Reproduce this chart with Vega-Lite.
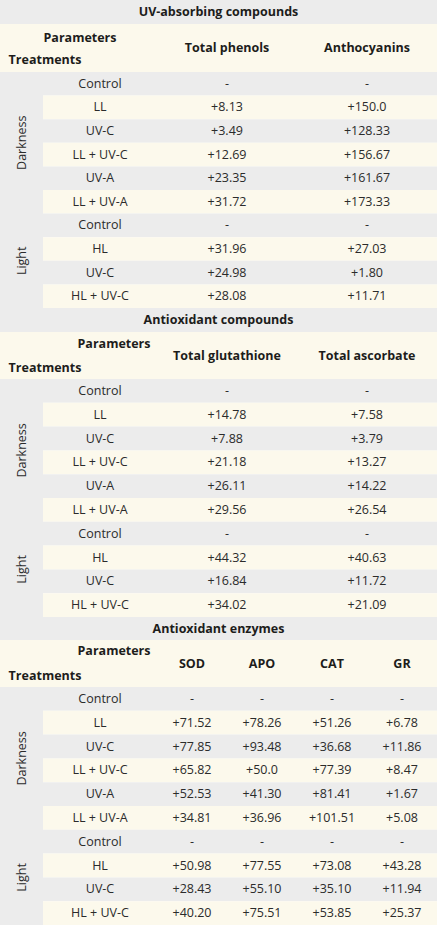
{
  "$schema": "https://vega.github.io/schema/vega-lite/v6.json",
  "padding": 0,
  "spacing": 0,
  "config": {
    "view": {"stroke": null},
    "concat": {"spacing": 0},
    "text": {"font": "Open Sans", "fontSize": 12.5, "color": "#2b2b2b"}
  },
  "datasets": {
    "uv": [
      {"group": "Darkness", "treatment": "Control", "Total phenols": "-", "Anthocyanins": "-"},
      {"group": "Darkness", "treatment": "LL", "Total phenols": "+8.13", "Anthocyanins": "+150.0"},
      {"group": "Darkness", "treatment": "UV-C", "Total phenols": "+3.49", "Anthocyanins": "+128.33"},
      {"group": "Darkness", "treatment": "LL + UV-C", "Total phenols": "+12.69", "Anthocyanins": "+156.67"},
      {"group": "Darkness", "treatment": "UV-A", "Total phenols": "+23.35", "Anthocyanins": "+161.67"},
      {"group": "Darkness", "treatment": "LL + UV-A", "Total phenols": "+31.72", "Anthocyanins": "+173.33"},
      {"group": "Light", "treatment": "Control", "Total phenols": "-", "Anthocyanins": "-"},
      {"group": "Light", "treatment": "HL", "Total phenols": "+31.96", "Anthocyanins": "+27.03"},
      {"group": "Light", "treatment": "UV-C", "Total phenols": "+24.98", "Anthocyanins": "+1.80"},
      {"group": "Light", "treatment": "HL + UV-C", "Total phenols": "+28.08", "Anthocyanins": "+11.71"}
    ],
    "antiox": [
      {"group": "Darkness", "treatment": "Control", "Total glutathione": "-", "Total ascorbate": "-"},
      {"group": "Darkness", "treatment": "LL", "Total glutathione": "+14.78", "Total ascorbate": "+7.58"},
      {"group": "Darkness", "treatment": "UV-C", "Total glutathione": "+7.88", "Total ascorbate": "+3.79"},
      {"group": "Darkness", "treatment": "LL + UV-C", "Total glutathione": "+21.18", "Total ascorbate": "+13.27"},
      {"group": "Darkness", "treatment": "UV-A", "Total glutathione": "+26.11", "Total ascorbate": "+14.22"},
      {"group": "Darkness", "treatment": "LL + UV-A", "Total glutathione": "+29.56", "Total ascorbate": "+26.54"},
      {"group": "Light", "treatment": "Control", "Total glutathione": "-", "Total ascorbate": "-"},
      {"group": "Light", "treatment": "HL", "Total glutathione": "+44.32", "Total ascorbate": "+40.63"},
      {"group": "Light", "treatment": "UV-C", "Total glutathione": "+16.84", "Total ascorbate": "+11.72"},
      {"group": "Light", "treatment": "HL + UV-C", "Total glutathione": "+34.02", "Total ascorbate": "+21.09"}
    ],
    "enz": [
      {"group": "Darkness", "treatment": "Control", "SOD": "-", "APO": "-", "CAT": "-", "GR": "-"},
      {"group": "Darkness", "treatment": "LL", "SOD": "+71.52", "APO": "+78.26", "CAT": "+51.26", "GR": "+6.78"},
      {"group": "Darkness", "treatment": "UV-C", "SOD": "+77.85", "APO": "+93.48", "CAT": "+36.68", "GR": "+11.86"},
      {"group": "Darkness", "treatment": "LL + UV-C", "SOD": "+65.82", "APO": "+50.0", "CAT": "+77.39", "GR": "+8.47"},
      {"group": "Darkness", "treatment": "UV-A", "SOD": "+52.53", "APO": "+41.30", "CAT": "+81.41", "GR": "+1.67"},
      {"group": "Darkness", "treatment": "LL + UV-A", "SOD": "+34.81", "APO": "+36.96", "CAT": "+101.51", "GR": "+5.08"},
      {"group": "Light", "treatment": "Control", "SOD": "-", "APO": "-", "CAT": "-", "GR": "-"},
      {"group": "Light", "treatment": "HL", "SOD": "+50.98", "APO": "+77.55", "CAT": "+73.08", "GR": "+43.28"},
      {"group": "Light", "treatment": "UV-C", "SOD": "+28.43", "APO": "+55.10", "CAT": "+35.10", "GR": "+11.94"},
      {"group": "Light", "treatment": "HL + UV-C", "SOD": "+40.20", "APO": "+75.51", "CAT": "+53.85", "GR": "+25.37"}
    ]
  },
  "vconcat": [
    {
      "spacing": 0,
      "vconcat": [
        {
          "width": 437, "height": 24,
          "view": {"fill": "#ececec", "stroke": null},
          "data": {"values": [{"title": "UV-absorbing compounds"}]},
          "mark": {"type": "text", "fontWeight": "bold", "color": "#1d1d1b"},
          "encoding": {"text": {"field": "title"}}
        },
        {
          "spacing": 0,
          "hconcat": [
            {
              "width": 157, "height": 48,
              "view": {"fill": "#fcf9ec", "stroke": null},
              "data": {"values": [{"label": "Parameters"}, {"label": "Treatments"}]},
              "layer": [
                {"transform": [{"filter": "datum.label == 'Parameters'"}], "mark": {"type": "text", "fontWeight": "bold", "color": "#1d1d1b", "dx": 1.5, "dy": -10.5}, "encoding": {"text": {"field": "label"}}},
                {"transform": [{"filter": "datum.label == 'Treatments'"}], "mark": {"type": "text", "fontWeight": "bold", "color": "#1d1d1b", "dx": -33.5, "dy": 12}, "encoding": {"text": {"field": "label"}}}
              ]
            },
            {
              "width": 280, "height": 48,
              "view": {"fill": "#fcf9ec", "stroke": null},
              "data": {"name": "uv"},
              "transform": [{"filter": "datum.group == 'Darkness' && datum.treatment == 'Control'"}, {"fold": ["Total phenols", "Anthocyanins"], "as": ["parameter", "value"]}],
              "mark": {"type": "text", "fontWeight": "bold", "color": "#1d1d1b"},
              "encoding": {
                "x": {"field": "parameter", "type": "nominal", "scale": {"domain": ["Total phenols", "Anthocyanins"], "paddingInner": 0, "paddingOuter": 0}, "axis": null},
                "text": {"field": "parameter"}
              }
            }
          ]
        },
        {
          "spacing": 0,
          "hconcat": [
            {
              "width": 43, "height": 236,
              "view": {"fill": "#ececec", "stroke": null},
              "data": {"name": "uv"},
              "transform": [{"calculate": "datum.group + '|' + datum.treatment", "as": "key"}, {"filter": "(datum.group == 'Darkness' && datum.treatment == 'UV-C') || (datum.group == 'Light' && datum.treatment == 'HL')"}],
              "mark": {"type": "text", "angle": 270},
              "encoding": {
                "y": {"field": "key", "type": "nominal", "scale": {"domain": ["Darkness|Control", "Darkness|LL", "Darkness|UV-C", "Darkness|LL + UV-C", "Darkness|UV-A", "Darkness|LL + UV-A", "Light|Control", "Light|HL", "Light|UV-C", "Light|HL + UV-C"], "paddingInner": 0, "paddingOuter": 0}, "axis": null},
                "yOffset": {"condition": {"test": "datum.group == 'Light'", "value": 8}, "value": 11.8},
                "text": {"field": "group"}
              }
            },
            {
              "width": 114, "height": 236,
              "data": {"name": "uv"},
              "transform": [{"calculate": "datum.group + '|' + datum.treatment", "as": "key"}],
              "encoding": {
                "y": {"field": "key", "type": "nominal", "scale": {"domain": ["Darkness|Control", "Darkness|LL", "Darkness|UV-C", "Darkness|LL + UV-C", "Darkness|UV-A", "Darkness|LL + UV-A", "Light|Control", "Light|HL", "Light|UV-C", "Light|HL + UV-C"], "paddingInner": 0, "paddingOuter": 0}, "axis": null}
              },
              "layer": [
                {"mark": {"type": "rect", "strokeWidth": 0}, "encoding": {"fill": {"field": "key", "type": "nominal", "scale": {"domain": ["Darkness|Control", "Darkness|LL", "Darkness|UV-C", "Darkness|LL + UV-C", "Darkness|UV-A", "Darkness|LL + UV-A", "Light|Control", "Light|HL", "Light|UV-C", "Light|HL + UV-C"], "range": ["#ececec", "#fcf9ec", "#ececec", "#fcf9ec", "#ececec", "#fcf9ec", "#ececec", "#fcf9ec", "#ececec", "#fcf9ec"]}, "legend": null}}},
                {"mark": {"type": "text"}, "encoding": {"text": {"field": "treatment"}}}
              ]
            },
            {
              "width": 280, "height": 236,
              "data": {"name": "uv"},
              "transform": [{"calculate": "datum.group + '|' + datum.treatment", "as": "key"}, {"fold": ["Total phenols", "Anthocyanins"], "as": ["parameter", "value"]}],
              "encoding": {
                "x": {"field": "parameter", "type": "nominal", "scale": {"domain": ["Total phenols", "Anthocyanins"], "paddingInner": 0, "paddingOuter": 0}, "axis": null},
                "y": {"field": "key", "type": "nominal", "scale": {"domain": ["Darkness|Control", "Darkness|LL", "Darkness|UV-C", "Darkness|LL + UV-C", "Darkness|UV-A", "Darkness|LL + UV-A", "Light|Control", "Light|HL", "Light|UV-C", "Light|HL + UV-C"], "paddingInner": 0, "paddingOuter": 0}, "axis": null}
              },
              "layer": [
                {"mark": {"type": "rect", "strokeWidth": 0}, "encoding": {"fill": {"field": "key", "type": "nominal", "scale": {"domain": ["Darkness|Control", "Darkness|LL", "Darkness|UV-C", "Darkness|LL + UV-C", "Darkness|UV-A", "Darkness|LL + UV-A", "Light|Control", "Light|HL", "Light|UV-C", "Light|HL + UV-C"], "range": ["#ececec", "#fcf9ec", "#ececec", "#fcf9ec", "#ececec", "#fcf9ec", "#ececec", "#fcf9ec", "#ececec", "#fcf9ec"]}, "legend": null}}},
                {"mark": {"type": "text"}, "encoding": {"text": {"field": "value"}}}
              ]
            }
          ]
        }
      ]
    },
    {
      "spacing": 0,
      "vconcat": [
        {
          "width": 437, "height": 24,
          "view": {"fill": "#ececec", "stroke": null},
          "data": {"values": [{"title": "Antioxidant compounds"}]},
          "mark": {"type": "text", "fontWeight": "bold", "color": "#1d1d1b"},
          "encoding": {"text": {"field": "title"}}
        },
        {
          "spacing": 0,
          "hconcat": [
            {
              "width": 157, "height": 47,
              "view": {"fill": "#fcf9ec", "stroke": null},
              "data": {"values": [{"label": "Parameters"}, {"label": "Treatments"}]},
              "layer": [
                {"transform": [{"filter": "datum.label == 'Parameters'"}], "mark": {"type": "text", "fontWeight": "bold", "color": "#1d1d1b", "dx": 35.5, "dy": -11.5}, "encoding": {"text": {"field": "label"}}},
                {"transform": [{"filter": "datum.label == 'Treatments'"}], "mark": {"type": "text", "fontWeight": "bold", "color": "#1d1d1b", "dx": -33.5, "dy": 12.5}, "encoding": {"text": {"field": "label"}}}
              ]
            },
            {
              "width": 280, "height": 47,
              "view": {"fill": "#fcf9ec", "stroke": null},
              "data": {"name": "antiox"},
              "transform": [{"filter": "datum.group == 'Darkness' && datum.treatment == 'Control'"}, {"fold": ["Total glutathione", "Total ascorbate"], "as": ["parameter", "value"]}],
              "mark": {"type": "text", "fontWeight": "bold", "color": "#1d1d1b"},
              "encoding": {
                "x": {"field": "parameter", "type": "nominal", "scale": {"domain": ["Total glutathione", "Total ascorbate"], "paddingInner": 0, "paddingOuter": 0}, "axis": null},
                "text": {"field": "parameter"}
              }
            }
          ]
        },
        {
          "spacing": 0,
          "hconcat": [
            {
              "width": 43, "height": 238,
              "view": {"fill": "#ececec", "stroke": null},
              "data": {"name": "antiox"},
              "transform": [{"calculate": "datum.group + '|' + datum.treatment", "as": "key"}, {"filter": "(datum.group == 'Darkness' && datum.treatment == 'UV-C') || (datum.group == 'Light' && datum.treatment == 'HL')"}],
              "mark": {"type": "text", "angle": 270},
              "encoding": {
                "y": {"field": "key", "type": "nominal", "scale": {"domain": ["Darkness|Control", "Darkness|LL", "Darkness|UV-C", "Darkness|LL + UV-C", "Darkness|UV-A", "Darkness|LL + UV-A", "Light|Control", "Light|HL", "Light|UV-C", "Light|HL + UV-C"], "paddingInner": 0, "paddingOuter": 0}, "axis": null},
                "yOffset": {"condition": {"test": "datum.group == 'Light'", "value": 8}, "value": 11.9},
                "text": {"field": "group"}
              }
            },
            {
              "width": 114, "height": 238,
              "data": {"name": "antiox"},
              "transform": [{"calculate": "datum.group + '|' + datum.treatment", "as": "key"}],
              "encoding": {
                "y": {"field": "key", "type": "nominal", "scale": {"domain": ["Darkness|Control", "Darkness|LL", "Darkness|UV-C", "Darkness|LL + UV-C", "Darkness|UV-A", "Darkness|LL + UV-A", "Light|Control", "Light|HL", "Light|UV-C", "Light|HL + UV-C"], "paddingInner": 0, "paddingOuter": 0}, "axis": null}
              },
              "layer": [
                {"mark": {"type": "rect", "strokeWidth": 0}, "encoding": {"fill": {"field": "key", "type": "nominal", "scale": {"domain": ["Darkness|Control", "Darkness|LL", "Darkness|UV-C", "Darkness|LL + UV-C", "Darkness|UV-A", "Darkness|LL + UV-A", "Light|Control", "Light|HL", "Light|UV-C", "Light|HL + UV-C"], "range": ["#ececec", "#fcf9ec", "#ececec", "#fcf9ec", "#ececec", "#fcf9ec", "#ececec", "#fcf9ec", "#ececec", "#fcf9ec"]}, "legend": null}}},
                {"mark": {"type": "text"}, "encoding": {"text": {"field": "treatment"}}}
              ]
            },
            {
              "width": 280, "height": 238,
              "data": {"name": "antiox"},
              "transform": [{"calculate": "datum.group + '|' + datum.treatment", "as": "key"}, {"fold": ["Total glutathione", "Total ascorbate"], "as": ["parameter", "value"]}],
              "encoding": {
                "x": {"field": "parameter", "type": "nominal", "scale": {"domain": ["Total glutathione", "Total ascorbate"], "paddingInner": 0, "paddingOuter": 0}, "axis": null},
                "y": {"field": "key", "type": "nominal", "scale": {"domain": ["Darkness|Control", "Darkness|LL", "Darkness|UV-C", "Darkness|LL + UV-C", "Darkness|UV-A", "Darkness|LL + UV-A", "Light|Control", "Light|HL", "Light|UV-C", "Light|HL + UV-C"], "paddingInner": 0, "paddingOuter": 0}, "axis": null}
              },
              "layer": [
                {"mark": {"type": "rect", "strokeWidth": 0}, "encoding": {"fill": {"field": "key", "type": "nominal", "scale": {"domain": ["Darkness|Control", "Darkness|LL", "Darkness|UV-C", "Darkness|LL + UV-C", "Darkness|UV-A", "Darkness|LL + UV-A", "Light|Control", "Light|HL", "Light|UV-C", "Light|HL + UV-C"], "range": ["#ececec", "#fcf9ec", "#ececec", "#fcf9ec", "#ececec", "#fcf9ec", "#ececec", "#fcf9ec", "#ececec", "#fcf9ec"]}, "legend": null}}},
                {"mark": {"type": "text"}, "encoding": {"text": {"field": "value"}}}
              ]
            }
          ]
        }
      ]
    },
    {
      "spacing": 0,
      "vconcat": [
        {
          "width": 437, "height": 23,
          "view": {"fill": "#ececec", "stroke": null},
          "data": {"values": [{"title": "Antioxidant enzymes"}]},
          "mark": {"type": "text", "fontWeight": "bold", "color": "#1d1d1b"},
          "encoding": {"text": {"field": "title"}}
        },
        {
          "spacing": 0,
          "hconcat": [
            {
              "width": 157, "height": 47,
              "view": {"fill": "#fcf9ec", "stroke": null},
              "data": {"values": [{"label": "Parameters"}, {"label": "Treatments"}]},
              "layer": [
                {"transform": [{"filter": "datum.label == 'Parameters'"}], "mark": {"type": "text", "fontWeight": "bold", "color": "#1d1d1b", "dx": 35.5, "dy": -12.5}, "encoding": {"text": {"field": "label"}}},
                {"transform": [{"filter": "datum.label == 'Treatments'"}], "mark": {"type": "text", "fontWeight": "bold", "color": "#1d1d1b", "dx": -33.5, "dy": 12.5}, "encoding": {"text": {"field": "label"}}}
              ]
            },
            {
              "width": 280, "height": 47,
              "view": {"fill": "#fcf9ec", "stroke": null},
              "data": {"name": "enz"},
              "transform": [{"filter": "datum.group == 'Darkness' && datum.treatment == 'Control'"}, {"fold": ["SOD", "APO", "CAT", "GR"], "as": ["parameter", "value"]}],
              "mark": {"type": "text", "fontWeight": "bold", "color": "#1d1d1b"},
              "encoding": {
                "x": {"field": "parameter", "type": "nominal", "scale": {"domain": ["SOD", "APO", "CAT", "GR"], "paddingInner": 0, "paddingOuter": 0}, "axis": null},
                "text": {"field": "parameter"}
              }
            }
          ]
        },
        {
          "spacing": 0,
          "hconcat": [
            {
              "width": 43, "height": 238,
              "view": {"fill": "#ececec", "stroke": null},
              "data": {"name": "enz"},
              "transform": [{"calculate": "datum.group + '|' + datum.treatment", "as": "key"}, {"filter": "(datum.group == 'Darkness' && datum.treatment == 'UV-C') || (datum.group == 'Light' && datum.treatment == 'HL')"}],
              "mark": {"type": "text", "angle": 270},
              "encoding": {
                "y": {"field": "key", "type": "nominal", "scale": {"domain": ["Darkness|Control", "Darkness|LL", "Darkness|UV-C", "Darkness|LL + UV-C", "Darkness|UV-A", "Darkness|LL + UV-A", "Light|Control", "Light|HL", "Light|UV-C", "Light|HL + UV-C"], "paddingInner": 0, "paddingOuter": 0}, "axis": null},
                "yOffset": {"condition": {"test": "datum.group == 'Light'", "value": 8}, "value": 11.9},
                "text": {"field": "group"}
              }
            },
            {
              "width": 114, "height": 238,
              "data": {"name": "enz"},
              "transform": [{"calculate": "datum.group + '|' + datum.treatment", "as": "key"}],
              "encoding": {
                "y": {"field": "key", "type": "nominal", "scale": {"domain": ["Darkness|Control", "Darkness|LL", "Darkness|UV-C", "Darkness|LL + UV-C", "Darkness|UV-A", "Darkness|LL + UV-A", "Light|Control", "Light|HL", "Light|UV-C", "Light|HL + UV-C"], "paddingInner": 0, "paddingOuter": 0}, "axis": null}
              },
              "layer": [
                {"mark": {"type": "rect", "strokeWidth": 0}, "encoding": {"fill": {"field": "key", "type": "nominal", "scale": {"domain": ["Darkness|Control", "Darkness|LL", "Darkness|UV-C", "Darkness|LL + UV-C", "Darkness|UV-A", "Darkness|LL + UV-A", "Light|Control", "Light|HL", "Light|UV-C", "Light|HL + UV-C"], "range": ["#ececec", "#fcf9ec", "#ececec", "#fcf9ec", "#ececec", "#fcf9ec", "#ececec", "#fcf9ec", "#ececec", "#fcf9ec"]}, "legend": null}}},
                {"mark": {"type": "text"}, "encoding": {"text": {"field": "treatment"}}}
              ]
            },
            {
              "width": 280, "height": 238,
              "data": {"name": "enz"},
              "transform": [{"calculate": "datum.group + '|' + datum.treatment", "as": "key"}, {"fold": ["SOD", "APO", "CAT", "GR"], "as": ["parameter", "value"]}],
              "encoding": {
                "x": {"field": "parameter", "type": "nominal", "scale": {"domain": ["SOD", "APO", "CAT", "GR"], "paddingInner": 0, "paddingOuter": 0}, "axis": null},
                "y": {"field": "key", "type": "nominal", "scale": {"domain": ["Darkness|Control", "Darkness|LL", "Darkness|UV-C", "Darkness|LL + UV-C", "Darkness|UV-A", "Darkness|LL + UV-A", "Light|Control", "Light|HL", "Light|UV-C", "Light|HL + UV-C"], "paddingInner": 0, "paddingOuter": 0}, "axis": null}
              },
              "layer": [
                {"mark": {"type": "rect", "strokeWidth": 0}, "encoding": {"fill": {"field": "key", "type": "nominal", "scale": {"domain": ["Darkness|Control", "Darkness|LL", "Darkness|UV-C", "Darkness|LL + UV-C", "Darkness|UV-A", "Darkness|LL + UV-A", "Light|Control", "Light|HL", "Light|UV-C", "Light|HL + UV-C"], "range": ["#ececec", "#fcf9ec", "#ececec", "#fcf9ec", "#ececec", "#fcf9ec", "#ececec", "#fcf9ec", "#ececec", "#fcf9ec"]}, "legend": null}}},
                {"mark": {"type": "text"}, "encoding": {"text": {"field": "value"}}}
              ]
            }
          ]
        }
      ]
    }
  ]
}
